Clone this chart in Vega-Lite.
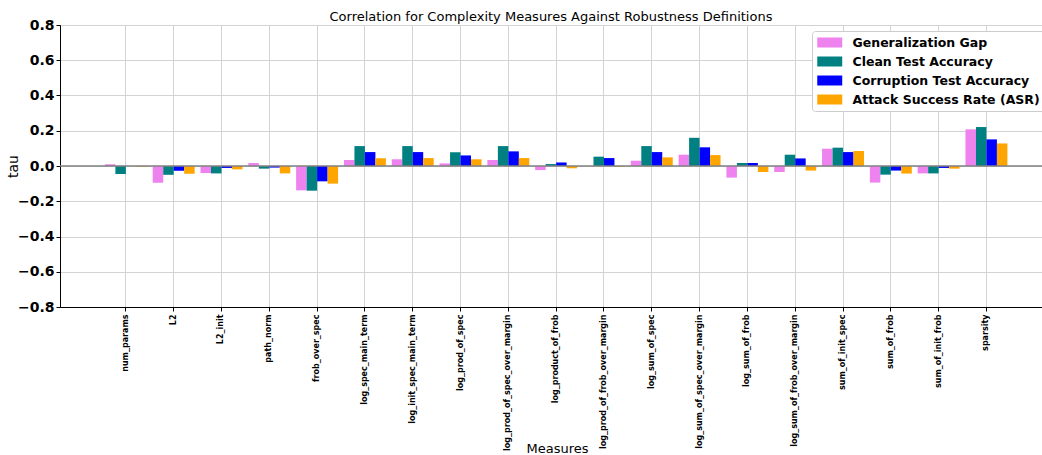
{
  "$schema": "https://vega.github.io/schema/vega-lite/v6.json",
  "width": 982,
  "height": 282,
  "autosize": "none",
  "padding": {"left": 60, "top": 25, "right": 0, "bottom": 148},
  "background": "white",
  "config": {
    "font": "DejaVu Sans",
    "view": {"stroke": "black", "strokeWidth": 1},
    "axisY": {
      "values": [-0.8, -0.6, -0.4, -0.2, 0, 0.2, 0.4, 0.6, 0.8],
      "tickCount": 9,
      "format": ".1f",
      "labelOverlap": false,
      "labelFontSize": 14,
      "labelFontWeight": "bold",
      "labelColor": "black",
      "grid": true,
      "gridColor": "#d3d3d3",
      "gridWidth": 1,
      "tickColor": "black",
      "tickSize": 4,
      "domainColor": "black",
      "titleFontSize": 14,
      "titleFontWeight": "normal",
      "titleColor": "black",
      "titleX": -47,
      "titleBaseline": "middle"
    }
  },
  "title": {
    "text": "Correlation for Complexity Measures Against Robustness Definitions",
    "fontSize": 13,
    "fontWeight": "normal",
    "color": "black",
    "frame": "group",
    "offset": 4,
    "dy": 10
  },
  "layer": [
    {
      "data": {
        "values": [
          {"measure": "num_params", "Generalization Gap": 0.01, "Clean Test Accuracy": -0.045, "Corruption Test Accuracy": 0.0, "Attack Success Rate (ASR)": -0.005},
          {"measure": "L2", "Generalization Gap": -0.095, "Clean Test Accuracy": -0.05, "Corruption Test Accuracy": -0.027, "Attack Success Rate (ASR)": -0.044},
          {"measure": "L2_init", "Generalization Gap": -0.04, "Clean Test Accuracy": -0.042, "Corruption Test Accuracy": -0.011, "Attack Success Rate (ASR)": -0.019},
          {"measure": "path_norm", "Generalization Gap": 0.017, "Clean Test Accuracy": -0.015, "Corruption Test Accuracy": -0.009, "Attack Success Rate (ASR)": -0.042},
          {"measure": "frob_over_spec", "Generalization Gap": -0.138, "Clean Test Accuracy": -0.14, "Corruption Test Accuracy": -0.087, "Attack Success Rate (ASR)": -0.1},
          {"measure": "log_spec_main_term", "Generalization Gap": 0.034, "Clean Test Accuracy": 0.113, "Corruption Test Accuracy": 0.079, "Attack Success Rate (ASR)": 0.044},
          {"measure": "log_init_spec_main_term", "Generalization Gap": 0.038, "Clean Test Accuracy": 0.113, "Corruption Test Accuracy": 0.079, "Attack Success Rate (ASR)": 0.045},
          {"measure": "log_prod_of_spec", "Generalization Gap": 0.015, "Clean Test Accuracy": 0.078, "Corruption Test Accuracy": 0.06, "Attack Success Rate (ASR)": 0.038},
          {"measure": "log_prod_of_spec_over_margin", "Generalization Gap": 0.034, "Clean Test Accuracy": 0.113, "Corruption Test Accuracy": 0.083, "Attack Success Rate (ASR)": 0.045},
          {"measure": "log_product_of_frob", "Generalization Gap": -0.023, "Clean Test Accuracy": 0.011, "Corruption Test Accuracy": 0.02, "Attack Success Rate (ASR)": -0.013},
          {"measure": "log_prod_of_frob_over_margin", "Generalization Gap": 0.0, "Clean Test Accuracy": 0.053, "Corruption Test Accuracy": 0.045, "Attack Success Rate (ASR)": -0.005},
          {"measure": "log_sum_of_spec", "Generalization Gap": 0.03, "Clean Test Accuracy": 0.113, "Corruption Test Accuracy": 0.079, "Attack Success Rate (ASR)": 0.049},
          {"measure": "log_sum_of_spec_over_margin", "Generalization Gap": 0.064, "Clean Test Accuracy": 0.16, "Corruption Test Accuracy": 0.106, "Attack Success Rate (ASR)": 0.062},
          {"measure": "log_sum_of_frob", "Generalization Gap": -0.066, "Clean Test Accuracy": 0.017, "Corruption Test Accuracy": 0.017, "Attack Success Rate (ASR)": -0.034},
          {"measure": "log_sum_of_frob_over_margin", "Generalization Gap": -0.034, "Clean Test Accuracy": 0.064, "Corruption Test Accuracy": 0.043, "Attack Success Rate (ASR)": -0.026},
          {"measure": "sum_of_init_spec", "Generalization Gap": 0.098, "Clean Test Accuracy": 0.104, "Corruption Test Accuracy": 0.079, "Attack Success Rate (ASR)": 0.085},
          {"measure": "sum_of_frob", "Generalization Gap": -0.094, "Clean Test Accuracy": -0.049, "Corruption Test Accuracy": -0.026, "Attack Success Rate (ASR)": -0.043},
          {"measure": "sum_of_init_frob", "Generalization Gap": -0.042, "Clean Test Accuracy": -0.042, "Corruption Test Accuracy": -0.011, "Attack Success Rate (ASR)": -0.015},
          {"measure": "sparsity", "Generalization Gap": 0.208, "Clean Test Accuracy": 0.221, "Corruption Test Accuracy": 0.151, "Attack Success Rate (ASR)": 0.128}
        ]
      },
      "transform": [
        {"fold": ["Generalization Gap", "Clean Test Accuracy", "Corruption Test Accuracy", "Attack Success Rate (ASR)"], "as": ["definition", "tau"]}
      ],
      "mark": {"type": "bar"},
      "encoding": {
        "x": {
          "field": "measure",
          "type": "nominal",
          "sort": null,
          "scale": {"paddingInner": 0, "paddingOuter": 0.77, "align": 0.57},
          "axis": {
            "title": "Measures",
            "titleFontSize": 13,
            "titleFontWeight": "normal",
            "titleColor": "black",
            "titleY": 145,
            "titleX": 497,
            "titleBaseline": "alphabetic",
            "labelAngle": -90,
            "labelFontSize": 8,
            "labelFontWeight": "bold",
            "labelColor": "black",
            "labelPadding": 3,
            "bandPosition": 0.5,
            "grid": true,
            "gridColor": "#d3d3d3",
            "gridWidth": 1,
            "tickColor": "black",
            "tickSize": 4,
            "domainColor": "black"
          }
        },
        "xOffset": {
          "field": "definition",
          "type": "nominal",
          "sort": ["Generalization Gap", "Clean Test Accuracy", "Corruption Test Accuracy", "Attack Success Rate (ASR)"],
          "scale": {"paddingInner": 0, "paddingOuter": 0.28}
        },
        "y": {
          "field": "tau",
          "type": "quantitative",
          "scale": {"domain": [-0.8, 0.8], "nice": false},
          "axis": {"title": "tau", "values": [-0.8, -0.6, -0.4, -0.2, 0, 0.2, 0.4, 0.6, 0.8], "labelOverlap": false}
        },
        "color": {
          "field": "definition",
          "type": "nominal",
          "scale": {
            "domain": ["Generalization Gap", "Clean Test Accuracy", "Corruption Test Accuracy", "Attack Success Rate (ASR)"],
            "range": ["#ee82ee", "#008080", "#0000ff", "#ffa500"]
          },
          "legend": {
            "orient": "none",
            "legendX": 752,
            "legendY": 6,
            "title": null,
            "labelFontSize": 12.5,
            "labelFontWeight": "bold",
            "labelColor": "black",
            "labelLimit": 400,
            "labelOffset": 22.5,
            "symbolType": "M-1,-0.8H3V0.8H-1Z",
            "symbolSize": 156,
            "symbolStrokeWidth": 0,
            "symbolOpacity": 1,
            "rowPadding": 6,
            "padding": 5,
            "fillColor": "white",
            "strokeColor": "#cccccc",
            "cornerRadius": 3
          }
        }
      }
    },
    {
      "data": {"values": [{}]},
      "mark": {"type": "rule", "color": "gray", "strokeWidth": 1.5},
      "encoding": {"y": {"datum": 0, "type": "quantitative", "axis": {"title": "tau", "values": [-0.8, -0.6, -0.4, -0.2, 0, 0.2, 0.4, 0.6, 0.8], "labelOverlap": false}}}
    }
  ]
}
